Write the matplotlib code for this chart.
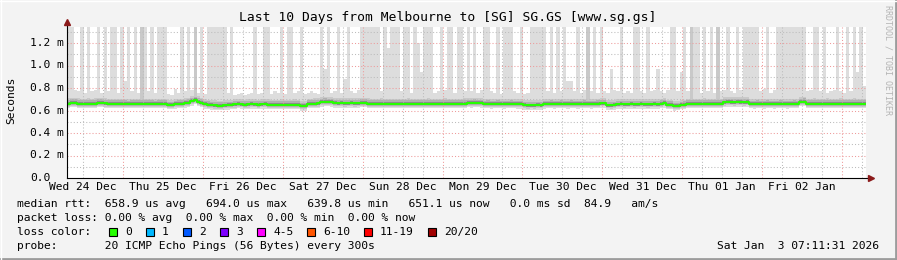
import datetime as dt
import numpy as np
import matplotlib
matplotlib.use('Agg')
import matplotlib.pyplot as plt
import matplotlib.dates as mdates
from matplotlib.patches import Rectangle
from matplotlib.lines import Line2D

# ---- data (1 hour bins, values in ms) ----
start = dt.datetime(2025, 12, 24, 7, 11, 31)

median_ms = [
    .662, .668, .668, .662, .660, .661, .662, .660, .662, .668, .668, .663, .661, .660, .660, .659, .660, .659, .658, .659, .660, .661, .660, .659,
    .661, .660, .658, .659, .660, .661, .650, .650, .657, .660, .661, .666, .670, .684, .694, .680, .668, .656, .652, .648, .645, .643, .642, .646,
    .648, .650, .654, .658, .655, .652, .654, .656, .655, .652, .655, .657, .653, .652, .651, .652, .653, .652, .651, .652, .653, .652, .640, .640,
    .660, .661, .662, .663, .675, .677, .676, .674, .665, .664, .666, .663, .664, .665, .663, .664, .670, .669, .662, .661, .660, .661, .662, .660,
    .661, .659, .660, .661, .660, .659, .662, .661, .660, .659, .661, .660, .662, .661, .659, .660, .661, .662, .660, .659, .660, .661, .660, .662,
    .667, .666, .668, .667, .666, .658, .659, .657, .658, .659, .658, .657, .658, .659, .658, .657, .656, .647, .645, .646, .645, .647, .646, .657,
    .658, .659, .657, .658, .659, .658, .657, .659, .658, .657, .658, .659, .658, .657, .658, .659, .664, .664, .646, .645, .647, .655, .656, .654,
    .655, .656, .654, .655, .656, .655, .654, .655, .656, .655, .660, .665, .652, .651, .640, .641, .650, .652, .661, .662, .660, .661, .660, .662,
    .661, .660, .661, .660, .661, .672, .674, .673, .672, .674, .673, .672, .673, .658, .657, .659, .658, .657, .659, .658, .657, .658, .659, .658,
    .657, .658, .659, .658, .676, .677, .661, .660, .662, .661, .660, .661, .662, .660, .661, .660, .662, .661, .660, .661, .662, .660, .661, .660,
]

T = 1.40  # beyond the top of the graph
max_ms = [
    T, T, .78, .77, T, .76, T, .77, .78, T, .76, T, .77, T, T, .76, T, .86, T, .77, T, .76, T, T,
    .77, T, .76, T, T, T, .75, .74, .79, .76, T, .77, T, .78, T, .76, T, .75, T, T, T, T, T, T,
    .76, T, .74, .75, .76, .74, .75, .76, T, .75, .76, T, T, .75, .77, .76, T, .75, T, T, .76, .77, T, .75,
    .76, .77, .76, .75, T, .97, T, .76, .77, T, .76, .88, T, .77, .76, .78, T, T, T, T, T, T, .77, T,
    1.16, T, T, T, .77, T, T, .76, T, 1.20, .94, T, T, T, .76, .77, T, .78, T, T, .76, T, T, .77,
    T, .77, T, .76, .78, T, T, .77, .76, T, .75, T, T, T, .77, .76, T, .75, .76, T, T, T, T, T,
    .77, T, .76, T, .77, T, .86, .86, .77, T, .76, .78, T, .77, T, .76, T, .77, .76, .97, .78, .77, T, .76,
    .77, .76, T, T, .77, .76, T, .77, .78, .97, .77, .76, .78, T, T, .77, .94, T, .77, T, T, T, .76, T,
    .77, T, .76, T, .77, .78, T, .77, .76, T, .78, T, T, T, T, T, .77, .79, T, .76, .78, T, T, T,
    T, T, T, T, T, T, .77, .78, T, T, .77, T, .76, .77, .78, T, .77, .76, T, .77, T, .94, T, .82,
]
busy_bins = [22, 38, 156, 187, 195]

y_ticks = [0.0, 0.2, 0.4, 0.6, 0.8, 1.0, 1.2]
y_tick_labels = ['0.0', '0.2 m', '0.4 m', '0.6 m', '0.8 m', '1.0 m', '1.2 m']

loss_labels = ['0', '1', '2', '3', '4-5', '6-10', '11-19', '20/20']
loss_colors = ['#26ff00', '#00b8ff', '#0059ff', '#7e00ff', '#ff00ff', '#ff5500', '#ff0000', '#a10000']
loss_box_x = [109, 146, 183, 220, 257, 307, 364, 428]

median_line = 'median rtt:  658.9 us avg   694.0 us max   639.8 us min   651.1 us now   0.0 ms sd  84.9   am/s'
loss_line = 'packet loss: 0.00 % avg  0.00 % max  0.00 % min  0.00 % now'
probe_line = 'probe:       20 ICMP Echo Pings (56 Bytes) every 300s'
stamp = 'Sat Jan  3 07:11:31 2026'

# ---- figure ----
W, H = 897, 260
mono = 'DejaVu Sans Mono'
plt.rcParams['font.family'] = mono

fig = plt.figure(figsize=(W / 100, H / 100), dpi=100, facecolor='#f3f3f3')
ax = fig.add_axes([67 / W, 1 - 178 / H, 799 / W, 151 / H])
ax.set_facecolor('white')

edges = [start + dt.timedelta(hours=i) for i in range(len(median_ms) + 1)]
xe = mdates.date2num(edges)
med = np.array(median_ms)
top = np.array(max_ms)
med_e = np.append(med, med[-1])
top_e = np.append(top, top[-1])

def band(lo, hi, color):
    ax.fill_between(xe, np.append(lo, lo[-1]), np.append(hi, hi[-1]), step='post',
                    color=color, lw=0, zorder=1)

band(med - 0.040, top, '#dddddd')
busy_top = med + 0.045
for b in busy_bins:
    busy_top[b] = T
band(med - 0.028, busy_top, '#c9c9c9')
band(med - 0.018, med + 0.030, '#b0b0b0')
band(med - 0.011, med + 0.016, '#8c8c8c')
band(med - 0.006, med + 0.008, '#555555')
ax.step(xe, med_e, where='post', color='#26ff00', lw=1.5, zorder=4)

ymax = 151 / 112.5
x0, x1 = xe[0], xe[-1]
ax.set_xlim(x0, x1)
ax.set_ylim(0, ymax)

# grid lines
dots = (0, (1, 2))
for v in np.arange(0.1, ymax, 0.1):
    major = abs(v / 0.2 - round(v / 0.2)) < 1e-6
    ax.axhline(v, color='#ee9a9a' if major else '#bcbcbc', lw=0.75, ls=dots, zorder=3)
t = dt.datetime(2025, 12, 24, 12)
while t < edges[-1]:
    if t > start:
        ax.axvline(mdates.date2num(t), color='#ee9a9a' if t.hour == 0 else '#bcbcbc',
                   lw=0.75, ls=dots, zorder=3)
    t += dt.timedelta(hours=6)

# ticks / labels
ax.tick_params(length=0)
ax.set_yticks(y_ticks)
ax.set_yticklabels([])
for v, lab in zip(y_ticks, y_tick_labels):
    ax.text(-37 / 799, v, lab, transform=ax.get_yaxis_transform(), ha='left', va='center',
            fontsize=8.1, color='#000000')

noon = [dt.datetime(2025, 12, 24, 12) + dt.timedelta(days=d) for d in range(10)]
ax.set_xticks(mdates.date2num(noon))
ax.set_xticklabels([d.strftime('%a %d %b') for d in noon], fontsize=8.1)
ax.tick_params(axis='x', pad=3)

for s in ['top', 'right']:
    ax.spines[s].set_visible(False)
ax.spines['left'].set_visible(False)
ax.spines['bottom'].set_visible(False)

xr = x1 + (5 / 80)
ya = (178 - 22) / 112.5
ax.plot([x0, x0], [0, ya], color='#000000', lw=0.8, clip_on=False, zorder=5)
ax.plot([x0, xr], [0, 0], color='#000000', lw=0.8, clip_on=False, zorder=5)
ax.plot([x0], [ya], marker='^', ms=4, color='#8b1a1a', clip_on=False, zorder=6)
ax.plot([xr], [0], marker='>', ms=4, color='#8b1a1a', clip_on=False, zorder=6)

fig.text(448 / W, 1 - 18 / H, 'Last 10 Days from Melbourne to [SG] SG.GS [www.sg.gs]',
         ha='center', va='center', fontsize=9.4)
fig.text(11 / W, 1 - 100 / H, 'Seconds', rotation=90, ha='center', va='center', fontsize=8.1)
fig.text(888 / W, 1 - 5 / H, 'RRDTOOL / TOBI OETIKER', rotation=270, ha='center', va='top',
         fontsize=6, color='#b4b4b4')

fig.text(17 / W, 1 - 204 / H, median_line, ha='left', va='center', fontsize=8.1)
fig.text(17 / W, 1 - 218 / H, loss_line, ha='left', va='center', fontsize=8.1)
fig.text(17 / W, 1 - 232 / H, 'loss color:', ha='left', va='center', fontsize=8.1)
for bx, lab, col in zip(loss_box_x, loss_labels, loss_colors):
    fig.add_artist(Rectangle((bx / W, 1 - 236 / H), 8 / W, 8 / H, transform=fig.transFigure,
                             facecolor=col, edgecolor='black', lw=0.8))
    fig.text((bx + 16) / W, 1 - 232 / H, lab, ha='left', va='center', fontsize=8.1)
fig.text(17 / W, 1 - 246 / H, probe_line, ha='left', va='center', fontsize=8.1)
fig.text(879 / W, 1 - 246 / H, stamp, ha='right', va='center', fontsize=8.1)

# frame of the picture
fig.add_artist(Line2D([0, 1], [1.5 / H, 1.5 / H], transform=fig.transFigure, color='#9c9c9c', lw=2))
fig.add_artist(Line2D([1 - 1.5 / W, 1 - 1.5 / W], [0, 1], transform=fig.transFigure, color='#9c9c9c', lw=2))
fig.add_artist(Line2D([0, 1], [1 - 0.5 / H, 1 - 0.5 / H], transform=fig.transFigure, color='#ffffff', lw=1))
fig.add_artist(Line2D([0.5 / W, 0.5 / W], [0, 1], transform=fig.transFigure, color='#ffffff', lw=1))

fig.savefig('out.png', dpi=100, facecolor=fig.get_facecolor())
